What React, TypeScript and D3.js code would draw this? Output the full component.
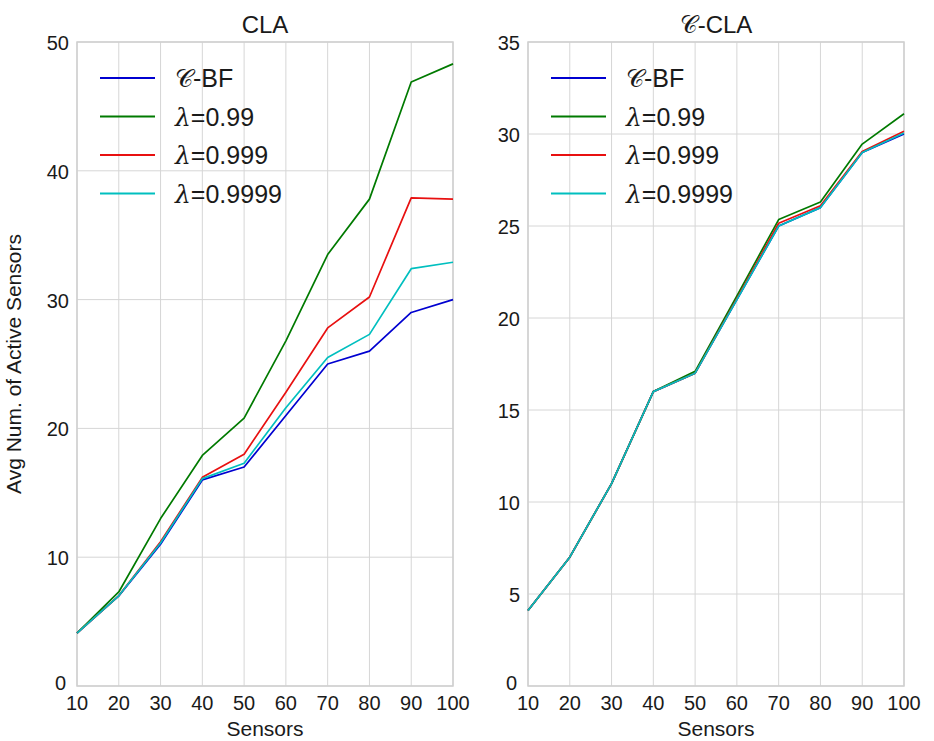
import React from "react";
import * as d3 from "d3";

const sensors = [10, 20, 30, 40, 50, 60, 70, 80, 90, 100];

const claBF = [4.1, 7.0, 11.0, 16.0, 17.0, 21.0, 25.0, 26.0, 29.0, 30.0];
const cla099 = [4.1, 7.3, 13.0, 17.9, 20.8, 26.8, 33.5, 37.8, 46.9, 48.3];
const cla0999 = [4.1, 7.0, 11.2, 16.2, 18.0, 22.8, 27.8, 30.2, 37.9, 37.8];
const cla09999 = [4.1, 7.0, 11.1, 16.1, 17.3, 21.6, 25.5, 27.3, 32.4, 32.9];

const cclaBF = [4.1, 7.0, 11.0, 16.0, 17.0, 21.0, 25.0, 26.0, 29.0, 30.0];
const ccla099 = [4.1, 7.0, 11.0, 16.0, 17.1, 21.2, 25.35, 26.3, 29.45, 31.1];
const ccla0999 = [4.1, 7.0, 11.0, 16.0, 17.0, 21.05, 25.15, 26.1, 29.05, 30.15];
const ccla09999 = [4.1, 7.0, 11.0, 16.0, 17.0, 21.0, 25.0, 26.0, 29.0, 30.05];

const leftYTicks = [0, 10, 20, 30, 40, 50];
const rightYTicks = [0, 5, 10, 15, 20, 25, 30, 35];

const seriesLabels = ["BF", "0.99", "0.999", "0.9999"];
const colors = ["#0000d0", "#007a00", "#e81010", "#00bfbf"];

const FONT = "'Liberation Sans', Arial, sans-serif";
const TXT = "#1a1a1a";

type PanelProps = {
  x0: number;
  x1: number;
  yMax: number;
  yTicks: number[];
  series: number[][];
  title: React.ReactNode;
  yLabel?: string;
};

function Panel({ x0, x1, yMax, yTicks, series, title, yLabel }: PanelProps) {
  const top = 42;
  const bottom = 686;
  const x = d3.scaleLinear().domain([10, 100]).range([x0, x1]);
  const y = d3.scaleLinear().domain([0, yMax]).range([bottom, top]);
  const line = d3
    .line<number>()
    .x((_, i) => x(sensors[i]))
    .y((d) => y(d));
  const legX = x0 + 23;
  return (
    <g>
      {sensors.map((s) => (
        <line key={"gx" + s} x1={x(s)} x2={x(s)} y1={top} y2={bottom} stroke="#d6d6d6" strokeWidth={1} />
      ))}
      {yTicks.map((t) => (
        <line key={"gy" + t} x1={x0} x2={x1} y1={y(t)} y2={y(t)} stroke="#d6d6d6" strokeWidth={1} />
      ))}
      <rect x={x0} y={top} width={x1 - x0} height={bottom - top} fill="none" stroke="#cfcfcf" strokeWidth={1.5} />
      {series.map((s, i) => (
        <path key={"s" + i} d={line(s) || ""} fill="none" stroke={colors[i]} strokeWidth={1.7} strokeLinejoin="round" />
      ))}
      {sensors.map((s) => (
        <text key={"tx" + s} x={x(s)} y={bottom + 24} textAnchor="middle" fontSize={20} fontFamily={FONT} fill={TXT}>
          {s}
        </text>
      ))}
      {yTicks.map((t) => (
        <text
          key={"ty" + t}
          x={x0 - (t === 0 ? 11 : 8)}
          y={y(t) + (t === 0 ? 4 : 8)}
          textAnchor="end"
          fontSize={20}
          fontFamily={FONT}
          fill={TXT}
        >
          {t}
        </text>
      ))}
      <text x={(x0 + x1) / 2} y={bottom + 50} textAnchor="middle" fontSize={21} fontFamily={FONT} fill={TXT}>
        Sensors
      </text>
      <text x={(x0 + x1) / 2} y={top - 9} textAnchor="middle" fontSize={24} fontFamily={FONT} fill={TXT}>
        {title}
      </text>
      {yLabel && (
        <text
          transform={`translate(${x0 - 56},${(top + bottom) / 2}) rotate(-90)`}
          textAnchor="middle"
          fontSize={21}
          fontFamily={FONT}
          fill={TXT}
        >
          {yLabel}
        </text>
      )}
      {seriesLabels.map((lab, i) => {
        const ly = 78 + i * 38.5;
        return (
          <g key={"lg" + i}>
            <line x1={legX} x2={legX + 55} y1={ly} y2={ly} stroke={colors[i]} strokeWidth={1.8} />
            <text x={legX + 75} y={ly + 9} fontSize={25} fontFamily={FONT} fill={TXT}>
              {i === 0 ? (
                <>
                  <tspan fontFamily="'DejaVu Serif', serif">𝒞</tspan>
                  <tspan>-BF</tspan>
                </>
              ) : (
                <>
                  <tspan fontFamily="'DejaVu Serif', serif" fontStyle="italic">λ</tspan>
                  <tspan>={lab}</tspan>
                </>
              )}
            </text>
          </g>
        );
      })}
    </g>
  );
}

export default function App() {
  return (
    <svg
      width={934}
      height={741}
      style={{ position: "absolute", left: 0, top: 0, background: "#fff" }}
    >
      <rect x={0} y={0} width={934} height={741} fill="#fff" />
      <Panel
        x0={77}
        x1={453}
        yMax={50}
        yTicks={leftYTicks}
        series={[claBF, cla099, cla0999, cla09999]}
        title="CLA"
        yLabel="Avg Num. of Active Sensors"
      />
      <Panel
        x0={528}
        x1={904}
        yMax={35}
        yTicks={rightYTicks}
        series={[cclaBF, ccla099, ccla0999, ccla09999]}
        title={
          <>
            <tspan fontFamily="'DejaVu Serif', serif">𝒞</tspan>
            <tspan>-CLA</tspan>
          </>
        }
      />
    </svg>
  );
}
